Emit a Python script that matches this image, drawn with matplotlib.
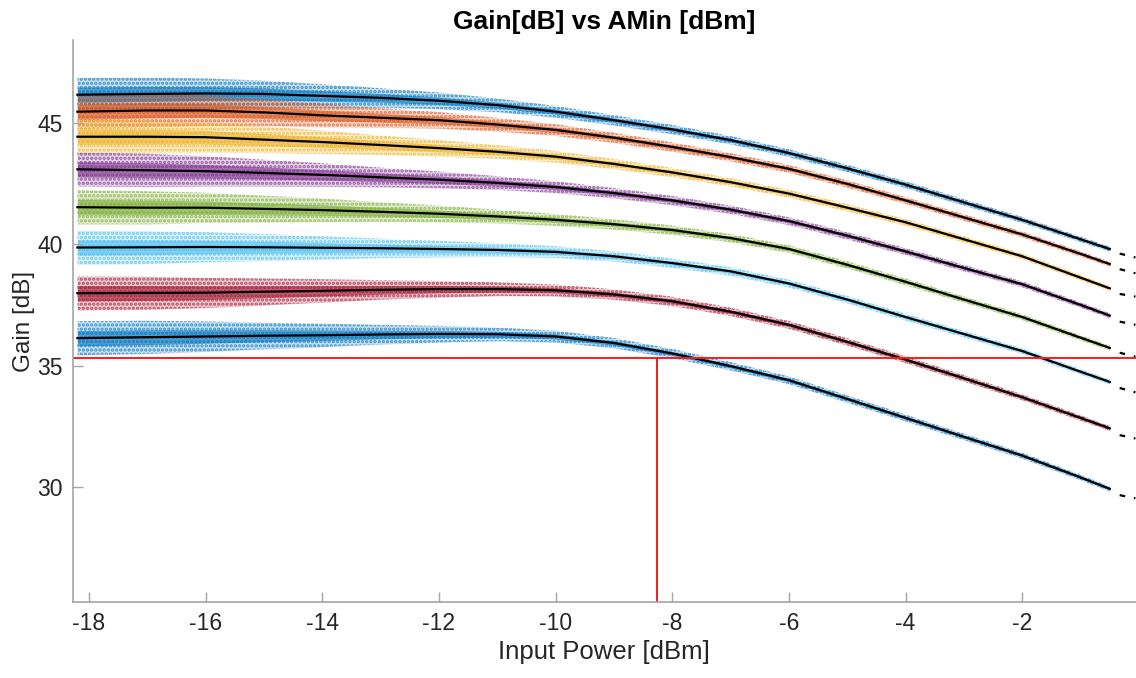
import numpy as np
import matplotlib
matplotlib.use("Agg")
import matplotlib.pyplot as plt

plt.rcParams["font.family"] = ["Liberation Sans", "DejaVu Sans"]
plt.rcParams["axes.unicode_minus"] = False
plt.rcParams["hatch.linewidth"] = 1.6

# input power [dBm] where the fitted curves were read
power = [-18.2, -17, -16, -15, -14, -13, -12, -11, -10, -9,
         -8, -7, -6, -5, -4, -3, -2, -1, -0.5]

# fitted gain curves [dB], top to bottom
gain_1 = [46.15, 46.18, 46.2, 46.18, 46.1, 46.02, 45.9, 45.72, 45.45, 45.1,
          44.72, 44.28, 43.75, 43.12, 42.45, 41.72, 41.0, 40.2, 39.8]
gain_2 = [45.45, 45.5, 45.5, 45.42, 45.3, 45.2, 45.1, 44.92, 44.7, 44.38,
          44.0, 43.58, 43.1, 42.48, 41.8, 41.1, 40.4, 39.6, 39.18]
gain_3 = [44.42, 44.42, 44.4, 44.3, 44.2, 44.08, 43.95, 43.8, 43.6, 43.3,
          42.95, 42.55, 42.08, 41.5, 40.9, 40.2, 39.5, 38.62, 38.18]
gain_4 = [43.08, 43.04, 43.0, 42.93, 42.85, 42.75, 42.65, 42.52, 42.35, 42.1,
          41.8, 41.42, 40.95, 40.35, 39.7, 39.02, 38.35, 37.5, 37.06]
gain_5 = [41.52, 41.5, 41.5, 41.45, 41.4, 41.33, 41.25, 41.14, 41.0, 40.82,
          40.58, 40.25, 39.8, 39.15, 38.45, 37.72, 37.0, 36.15, 35.73]
gain_6 = [39.86, 39.87, 39.88, 39.87, 39.85, 39.83, 39.8, 39.76, 39.68, 39.5,
          39.22, 38.88, 38.38, 37.72, 37.0, 36.3, 35.6, 34.75, 34.33]
gain_7 = [37.98, 37.99, 38.0, 38.04, 38.08, 38.12, 38.15, 38.15, 38.1, 37.93,
          37.65, 37.22, 36.68, 35.98, 35.25, 34.48, 33.7, 32.85, 32.42]
gain_8 = [36.13, 36.17, 36.2, 36.23, 36.25, 36.28, 36.3, 36.29, 36.2, 35.93,
          35.5, 34.98, 34.4, 33.63, 32.85, 32.07, 31.3, 30.4, 29.93]

# stray points right of the fitted range, two per curve
tail_power = [-0.33, -0.06]
tail_1 = [39.61, 39.45]
tail_2 = [38.97, 38.8]
tail_3 = [37.95, 37.84]
tail_4 = [36.81, 36.68]
tail_5 = [35.53, 35.37]
tail_6 = [34.08, 33.9]
tail_7 = [32.14, 32.0]
tail_8 = [29.67, 29.54]

# half width of the measured point cloud around each curve [dB]
spread = [0.7, 0.68, 0.62, 0.55, 0.48, 0.4, 0.34, 0.28, 0.24, 0.21,
          0.19, 0.17, 0.16, 0.15, 0.14, 0.13, 0.12, 0.11, 0.1]

# limit lines
gain_limit = 35.3
power_limit = -8.27

colors = ["#0072BD", "#D95319", "#EDB120", "#7E2F8E",
          "#77AC30", "#4DBEEE", "#A2142F", "#0072BD"]


def gain_plot():
    fig = plt.figure(figsize=(11.36, 6.78), dpi=100)
    ax = fig.add_axes([0.064, 0.112, 0.936, 0.829])

    x = np.array(power)
    s = np.array(spread)
    curves = [gain_1, gain_2, gain_3, gain_4, gain_5, gain_6, gain_7, gain_8]
    tails = [tail_1, tail_2, tail_3, tail_4, tail_5, tail_6, tail_7, tail_8]
    for g, c in zip(curves, colors):
        g = np.array(g)
        ax.fill_between(x, g - s, g + s, color=c, alpha=0.22, lw=0)
        ax.fill_between(x, g - s, g + s, facecolor="none", edgecolor=c,
                        hatch="....", lw=0, alpha=0.7)
        ax.fill_between(x, g - s * 0.45, g + s * 0.45, color=c, alpha=0.6, lw=0)
    for g, t in zip(curves, tails):
        ax.plot(x, g, color="black", lw=1.6)
        ax.plot(tail_power, t, color="black", lw=1.6, ls=(0, (2.5, 4)),
                clip_on=False)

    ax.axhline(gain_limit, color="#FF1A1A", lw=1.4)
    ax.plot([power_limit, power_limit], [25, gain_limit], color="#E82020", lw=1.4)

    ax.set_xlim(-18.28, -0.05)
    ax.set_ylim(25.27, 48.4)
    ax.set_xticks([-18, -16, -14, -12, -10, -8, -6, -4, -2])
    ax.set_yticks([30, 35, 40, 45])

    for side in ["top", "right"]:
        ax.spines[side].set_visible(False)
    for side in ["left", "bottom"]:
        ax.spines[side].set_color("#A6A6A6")
        ax.spines[side].set_linewidth(1.2)
    ax.tick_params(direction="in", length=7, width=1, color="#A6A6A6",
                   labelcolor="#262626", labelsize=16.5, pad=7)

    ax.set_xlabel("Input Power [dBm]", fontsize=18.5, color="#262626", labelpad=4)
    ax.set_ylabel("Gain [dB]", fontsize=17.5, color="#262626", labelpad=2)
    ax.set_title("Gain[dB] vs AMin [dBm]", fontsize=19, fontweight="bold", pad=8)

    fig.savefig("out.png", dpi=100, facecolor="white")


if __name__ == "__main__":
    gain_plot()
